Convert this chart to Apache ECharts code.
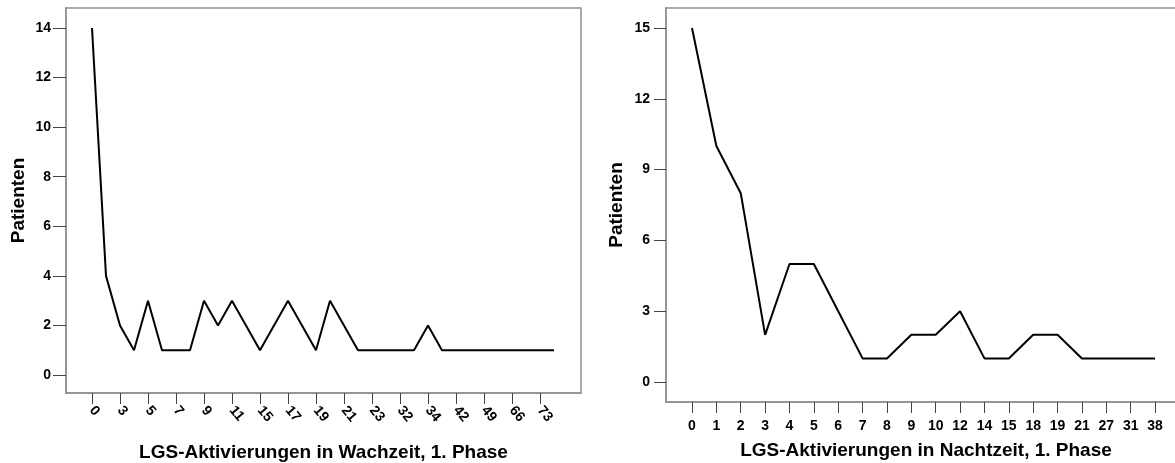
<!DOCTYPE html>
<html>
<head>
<meta charset="utf-8">
<script src="https://cdn.jsdelivr.net/npm/echarts@6/dist/echarts.min.js"></script>
<style>
  html, body { margin: 0; padding: 0; background: #fff; }
  #chart { width: 1175px; height: 463px; }
</style>
</head>
<body>
<div id="chart"></div>
<script>
// Wachzeit: activation counts (categories) and number of patients per count
const wakeCategories = ['0','1','3','4','5','6','7','8','9','10','11','13','15','16','17','18','19','20','21','22','23','24','32','33','34','36','42','45','49','55','66','70','73','80'];
const wakePatients   = [14, 4, 2, 1, 3, 1, 1, 1, 3, 2, 3, 2, 1, 2, 3, 2, 1, 3, 2, 1, 1, 1, 1, 1, 2, 1, 1, 1, 1, 1, 1, 1, 1, 1];
const wakeTicks      = [0, 2, 4, 6, 8, 10, 12, 14, 16, 18, 20, 22, 24, 26, 28, 30, 32];
const wakeYTicks     = [0, 2, 4, 6, 8, 10, 12, 14];

// Nachtzeit: activation counts (categories) and number of patients per count
const nightCategories = ['0','1','2','3','4','5','6','7','8','9','10','12','14','15','18','19','21','27','31','38'];
const nightPatients   = [15, 10, 8, 2, 5, 5, 3, 1, 1, 2, 2, 3, 1, 1, 2, 2, 1, 1, 1, 1];
const nightYTicks     = [0, 3, 6, 9, 12, 15];

const FONT = "'Liberation Sans', Arial, sans-serif";
const FRAME = '#8f8f8f';
const TICK = '#444444';

const toPoints = vals => vals.map((v, i) => [i, v]);
const indexTicks = n => Array.from({ length: n }, (_, i) => i);

const chart = echarts.init(document.getElementById('chart'), null, { renderer: 'canvas' });

const nameStyle = { fontFamily: FONT, fontWeight: 'bold', fontSize: 19, color: '#000' };

chart.setOption({
  animation: false,
  backgroundColor: '#fff',
  grid: [
    { left: 66, top: 8, width: 515, bottom: 70, show: true, borderColor: FRAME, borderWidth: 1.5, outerBoundsMode: 'none', containLabel: false },
    { left: 666, top: 8, width: 520, bottom: 61, show: true, borderColor: FRAME, borderWidth: 1.5, outerBoundsMode: 'none', containLabel: false }
  ],
  xAxis: [
    {
      gridIndex: 0, type: 'value', min: -1.857, max: 34.93,
      splitLine: { show: false },
      axisLine: { show: true, onZero: false, lineStyle: { color: FRAME, width: 1.5 } },
      axisTick: { show: true, length: 11, customValues: wakeTicks, lineStyle: { color: TICK, width: 1 } },
      axisLabel: {
        customValues: wakeTicks, rotate: -50, margin: 15,
        fontFamily: FONT, fontWeight: 'bold', fontSize: 14, color: '#000',
        formatter: v => wakeCategories[Math.round(v)]
      },
      name: 'LGS-Aktivierungen in Wachzeit, 1. Phase', nameLocation: 'middle', nameGap: 50,
      nameTextStyle: nameStyle
    },
    {
      gridIndex: 1, type: 'value', min: -1.067, max: 20.27,
      splitLine: { show: false },
      axisLine: { show: true, onZero: false, lineStyle: { color: FRAME, width: 1.5 } },
      axisTick: { show: true, length: 11, customValues: indexTicks(nightCategories.length), lineStyle: { color: TICK, width: 1 } },
      axisLabel: {
        customValues: indexTicks(nightCategories.length), margin: 17,
        fontFamily: FONT, fontWeight: 'bold', fontSize: 14, color: '#000',
        formatter: v => nightCategories[Math.round(v)]
      },
      name: 'LGS-Aktivierungen in Nachtzeit, 1. Phase', nameLocation: 'middle', nameGap: 39,
      nameTextStyle: nameStyle
    }
  ],
  yAxis: [
    {
      gridIndex: 0, type: 'value', min: -0.726, max: 14.807,
      splitLine: { show: false },
      axisLine: { show: true, onZero: false, lineStyle: { color: FRAME, width: 1.5 } },
      axisTick: { show: true, length: 13, customValues: wakeYTicks, lineStyle: { color: TICK, width: 1 } },
      axisLabel: { customValues: wakeYTicks, margin: 15, fontFamily: FONT, fontWeight: 'bold', fontSize: 14, color: '#000' },
      name: 'Patienten', nameLocation: 'middle', nameGap: 38, nameRotate: 90,
      nameTextStyle: nameStyle
    },
    {
      gridIndex: 1, type: 'value', min: -0.847, max: 15.847,
      splitLine: { show: false },
      axisLine: { show: true, onZero: false, lineStyle: { color: FRAME, width: 1.5 } },
      axisTick: { show: true, length: 12, customValues: nightYTicks, lineStyle: { color: TICK, width: 1 } },
      axisLabel: { customValues: nightYTicks, margin: 16, fontFamily: FONT, fontWeight: 'bold', fontSize: 14, color: '#000' },
      name: 'Patienten', nameLocation: 'middle', nameGap: 40, nameRotate: 90,
      nameTextStyle: nameStyle
    }
  ],
  series: [
    {
      type: 'line', xAxisIndex: 0, yAxisIndex: 0,
      data: toPoints(wakePatients),
      symbol: 'none', lineStyle: { color: '#000', width: 2 }
    },
    {
      type: 'line', xAxisIndex: 1, yAxisIndex: 1,
      data: toPoints(nightPatients),
      symbol: 'none', lineStyle: { color: '#000', width: 2 }
    }
  ]
});
</script>
</body>
</html>
